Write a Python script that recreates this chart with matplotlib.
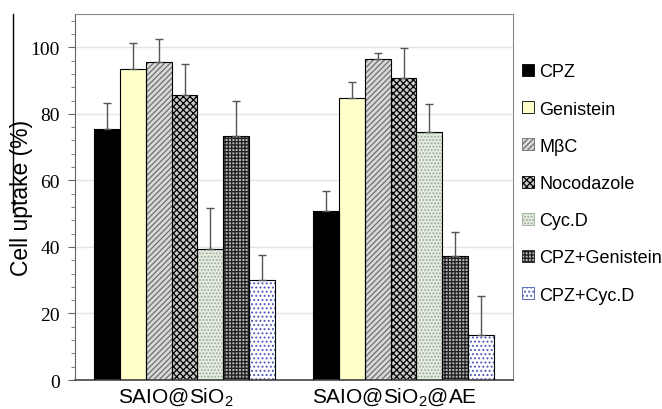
import numpy as np
import matplotlib.pyplot as plt
import matplotlib.transforms as mtransforms
from matplotlib.lines import Line2D
from matplotlib.patches import Patch

plt.rcParams['font.family'] = 'Liberation Sans'
plt.rcParams['mathtext.fontset'] = 'custom'
plt.rcParams['mathtext.rm'] = 'Liberation Sans'
plt.rcParams['hatch.linewidth'] = 0.9

# Data
groups = ['SAIO@SiO$_2$', 'SAIO@SiO$_2$@AE']
treatments = ['CPZ', 'Genistein', 'M\u03b2C', 'Nocodazole', 'Cyc.D', 'CPZ+Genistein', 'CPZ+Cyc.D']
uptake = [
    [75.3, 93.6, 95.7, 85.7, 39.5, 73.2, 30.0],
    [50.8, 84.7, 96.5, 90.8, 74.6, 37.4, 13.5],
]
upper_err = [
    [8.0, 7.8, 6.8, 9.4, 12.2, 10.8, 7.6],
    [6.1, 4.8, 1.8, 8.9, 8.4, 7.2, 11.8],
]

# styles: facecolor, hatch, hatch colour
styles = [
    ('black', '', 'black'),
    ('#ffffcc', '', 'black'),
    ('#d8d8d8', '//////', '#707070'),
    ('#c8c8c8', 'xxxxx', 'black'),
    ('#e4ece0', '.....', '#9aa89a'),
    ('#b0b0b0', '+++++', '#202020'),
    ('white', '....', '#4a5ab8'),
]

fig = plt.figure(figsize=(6.62, 4.10), dpi=100)
ax = fig.add_axes([0.1133, 0.0707, 0.6617, 0.8927])

x = np.arange(len(groups))
w = 0.118
for i, name in enumerate(treatments):
    fc, hatch, hc = styles[i]
    vals = [uptake[g][i] for g in range(len(groups))]
    errs = [upper_err[g][i] for g in range(len(groups))]
    pos = x + (i - 3) * w
    ax.bar(pos, vals, w, color=fc, hatch=hatch, edgecolor=hc, linewidth=0, zorder=2)
    ax.bar(pos, vals, w, fill=False, edgecolor='black', linewidth=0.8, zorder=3)
    ax.errorbar(pos, vals, yerr=[np.zeros(len(errs)), errs], fmt='none',
                ecolor='#555555', elinewidth=1, capsize=3, capthick=1, zorder=4)

ax.set_xlim(-0.5, 1.5)
ax.set_ylim(0, 110)
ax.set_yticks([0, 20, 40, 60, 80, 100])
ax.set_yticks(np.arange(0, 111, 4), minor=True)
ax.set_xticks(x)
ax.set_xticklabels(groups, fontsize=15)
ax.tick_params(axis='x', length=0, pad=4)
shift = mtransforms.ScaledTranslation(-9 / 100, 0, fig.dpi_scale_trans)
for lab in ax.get_xticklabels():
    lab.set_transform(lab.get_transform() + shift)
ax.tick_params(axis='y', which='major', length=5, direction='out', color='#666666', pad=6)
ax.tick_params(axis='y', which='minor', length=3, direction='out', color='#666666')
for lab in ax.get_yticklabels():
    lab.set_family('Liberation Serif')
    lab.set_fontsize(14)
ax.grid(axis='y', color='#e4e4e4', linewidth=1, zorder=0)
ax.set_axisbelow(True)
ax.set_ylabel('Cell uptake (%)', fontsize=16.5)
ax.yaxis.set_label_coords(-0.095, 0.5)

for s in ['top', 'right']:
    ax.spines[s].set_color('#888888')
ax.spines['left'].set_color('#666666')
ax.spines['bottom'].set_color('#444444')
ax.spines['bottom'].set_linewidth(1.2)

handles = [Patch(facecolor=st[0], hatch=st[1], edgecolor='black' if st[1] == '' else st[2], linewidth=0.6)
           for st in styles]
ax.legend(handles, treatments, loc='upper left', bbox_to_anchor=(1.005, 0.885),
          frameon=False, fontsize=13, handlelength=0.65, handleheight=0.65,
          handletextpad=0.3, labelspacing=1.12, borderaxespad=0)

# stray line in the top-left corner of the original image
fig.add_artist(Line2D([13 / 662, 13 / 662], [1 - 15 / 410, 1 - 213 / 410],
                      color='black', linewidth=1, zorder=0))

fig.savefig('out.png', dpi=100)
